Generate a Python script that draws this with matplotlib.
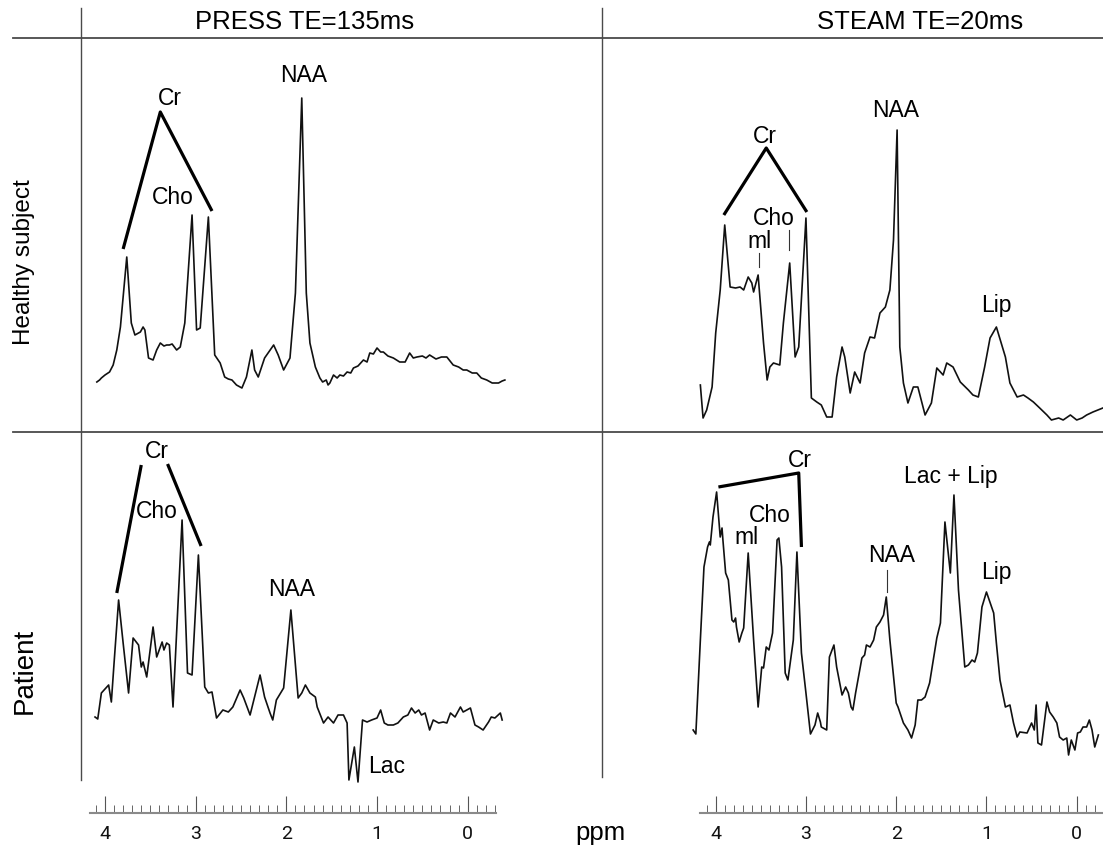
import numpy as np
import matplotlib
matplotlib.use('Agg')
import matplotlib.pyplot as plt
from matplotlib.ticker import FixedLocator

plt.rcParams['font.family'] = ['Liberation Sans', 'DejaVu Sans']

W, H = 1103, 847

# ---- spectra (ppm, signal in arbitrary units) ----
TL_PPM = [
    4.09, 4.06, 4.04, 4.00, 3.95, 3.91, 3.87, 3.83, 3.76, 3.71,
    3.67, 3.63, 3.61, 3.58, 3.56, 3.52, 3.47, 3.43, 3.39, 3.35,
    3.32, 3.29, 3.26, 3.21, 3.17, 3.12, 3.04, 2.99, 2.95, 2.86,
    2.79, 2.73, 2.68, 2.64, 2.60, 2.55, 2.49, 2.44, 2.38, 2.35,
    2.31, 2.24, 2.14, 2.09, 2.03, 1.96, 1.90, 1.83, 1.78, 1.74,
    1.68, 1.63, 1.60, 1.56, 1.54, 1.52, 1.48, 1.44, 1.41, 1.37,
    1.33, 1.29, 1.26, 1.21, 1.15, 1.11, 1.08, 1.04, 1.00, 0.96,
    0.93, 0.88, 0.82, 0.75, 0.69, 0.64, 0.60, 0.56, 0.50, 0.46,
    0.42, 0.35, 0.29, 0.23, 0.16, 0.10, 0.05, 0.01, -0.05, -0.10,
    -0.15, -0.21, -0.27, -0.34, -0.38, -0.41]
TL_INT = [
    48, 50, 52, 55, 58, 65, 80, 103, 173, 107,
    95, 97, 98, 103, 100, 72, 70, 80, 87, 84,
    85, 85, 86, 80, 83, 107, 215, 100, 102, 213,
    75, 67, 53, 51, 50, 45, 42, 53, 80, 60,
    53, 72, 85, 75, 60, 72, 137, 332, 137, 87,
    63, 52, 48, 50, 45, 47, 55, 52, 55, 54,
    58, 57, 62, 64, 70, 68, 77, 76, 82, 78,
    78, 74, 72, 68, 68, 77, 72, 73, 74, 72,
    75, 71, 73, 73, 65, 63, 60, 60, 57, 57,
    52, 50, 47, 47, 49, 50]

TR_PPM = [
    4.17, 4.14, 4.10, 4.04, 4.00, 3.95, 3.90, 3.84, 3.78, 3.73,
    3.69, 3.64, 3.60, 3.58, 3.53, 3.47, 3.43, 3.40, 3.36, 3.29,
    3.25, 3.18, 3.12, 3.08, 3.00, 2.94, 2.88, 2.83, 2.77, 2.71,
    2.66, 2.60, 2.57, 2.51, 2.46, 2.40, 2.35, 2.29, 2.24, 2.18,
    2.12, 2.07, 2.03, 1.99, 1.96, 1.92, 1.87, 1.81, 1.76, 1.68,
    1.61, 1.55, 1.48, 1.44, 1.37, 1.29, 1.20, 1.15, 1.09, 1.02,
    0.96, 0.89, 0.79, 0.74, 0.66, 0.59, 0.54, 0.48, 0.41, 0.33,
    0.28, 0.20, 0.15, 0.07, 0.00, -0.06, -0.11, -0.18, -0.29]
TR_INT = [
    45, 12, 20, 43, 97, 140, 205, 143, 142, 143,
    140, 153, 147, 138, 155, 87, 50, 63, 67, 65,
    107, 167, 73, 83, 212, 32, 28, 25, 13, 13,
    53, 83, 73, 37, 58, 47, 77, 93, 92, 117,
    123, 140, 190, 300, 83, 47, 27, 43, 43, 15,
    27, 62, 55, 67, 63, 48, 40, 35, 33, 63,
    92, 103, 73, 47, 33, 35, 32, 28, 22, 15,
    10, 12, 10, 15, 10, 12, 15, 18, 22]

BL_PPM = [
    4.11, 4.08, 4.04, 3.98, 3.96, 3.93, 3.90, 3.85, 3.80, 3.74,
    3.69, 3.63, 3.60, 3.58, 3.54, 3.47, 3.43, 3.37, 3.35, 3.32,
    3.29, 3.25, 3.15, 3.09, 3.04, 2.97, 2.90, 2.86, 2.82, 2.77,
    2.70, 2.64, 2.59, 2.51, 2.47, 2.40, 2.29, 2.24, 2.18, 2.15,
    2.11, 2.03, 1.95, 1.87, 1.83, 1.79, 1.74, 1.68, 1.66, 1.59,
    1.54, 1.48, 1.43, 1.37, 1.33, 1.31, 1.25, 1.21, 1.16, 1.11,
    1.06, 1.00, 0.96, 0.92, 0.88, 0.82, 0.77, 0.71, 0.66, 0.62,
    0.58, 0.54, 0.51, 0.47, 0.42, 0.38, 0.32, 0.27, 0.23, 0.19,
    0.14, 0.08, 0.05, 0.01, -0.03, -0.08, -0.12, -0.17, -0.23, -0.26,
    -0.30, -0.36, -0.38]
BL_INT = [
    73, 71, 97, 103, 105, 88, 127, 190, 147, 97,
    152, 145, 123, 128, 113, 163, 133, 148, 140, 147,
    145, 83, 270, 117, 115, 235, 103, 97, 98, 72,
    80, 78, 83, 100, 92, 75, 115, 93, 77, 70,
    90, 102, 180, 92, 97, 105, 97, 93, 83, 67,
    73, 67, 75, 75, 67, 10, 43, 8, 70, 68,
    70, 72, 80, 67, 65, 65, 67, 73, 75, 82,
    77, 80, 75, 77, 60, 70, 67, 68, 67, 77,
    73, 83, 78, 80, 82, 65, 63, 60, 68, 73,
    72, 77, 70]

BR_PPM = [
    4.25, 4.22, 4.17, 4.13, 4.09, 4.07, 4.06, 4.03, 3.99, 3.95,
    3.93, 3.92, 3.89, 3.86, 3.82, 3.80, 3.78, 3.77, 3.74, 3.71,
    3.69, 3.64, 3.58, 3.53, 3.49, 3.47, 3.44, 3.41, 3.37, 3.32,
    3.30, 3.27, 3.23, 3.20, 3.14, 3.10, 3.05, 3.00, 2.95, 2.90,
    2.87, 2.84, 2.83, 2.77, 2.74, 2.69, 2.66, 2.60, 2.56, 2.53,
    2.50, 2.48, 2.45, 2.38, 2.35, 2.33, 2.29, 2.25, 2.22, 2.18,
    2.14, 2.11, 2.07, 2.00, 1.98, 1.92, 1.87, 1.83, 1.79, 1.76,
    1.72, 1.68, 1.63, 1.55, 1.51, 1.46, 1.40, 1.36, 1.31, 1.24,
    1.20, 1.16, 1.13, 1.10, 1.05, 1.00, 0.92, 0.89, 0.85, 0.79,
    0.74, 0.70, 0.66, 0.63, 0.55, 0.50, 0.47, 0.45, 0.43, 0.39,
    0.33, 0.30, 0.26, 0.22, 0.19, 0.15, 0.11, 0.09, 0.06, 0.02,
    -0.01, -0.04, -0.07, -0.11, -0.14, -0.17, -0.20, -0.24]
BR_INT = [
    60, 56, 150, 223, 243, 248, 245, 273, 298, 253,
    262, 250, 217, 210, 170, 168, 172, 163, 148, 157,
    162, 237, 150, 83, 123, 122, 143, 140, 157, 250,
    252, 223, 117, 110, 150, 238, 137, 97, 56, 65,
    77, 68, 63, 60, 133, 145, 123, 95, 103, 97,
    83, 80, 97, 132, 135, 145, 143, 150, 163, 168,
    175, 193, 150, 87, 83, 67, 60, 52, 65, 90,
    90, 93, 107, 152, 167, 268, 217, 295, 200, 123,
    125, 130, 128, 137, 183, 198, 177, 147, 110, 83,
    85, 67, 53, 58, 57, 67, 60, 85, 47, 45,
    88, 78, 73, 67, 53, 50, 52, 35, 50, 40,
    57, 58, 63, 63, 70, 60, 43, 55]

COL_TITLES = ['PRESS TE=135ms', 'STEAM TE=20ms']
ROW_TITLES = ['Healthy subject', 'Patient']
PPM_TICKS = [4, 3, 2, 1, 0]

# ppm -> pixel calibration of each column (pixel of 4 ppm, pixels per ppm)
CAL = {'left': (105.0, 90.675), 'right': (715.7, 90.25)}


def px2ppm(col, x):
    x4, k = CAL[col]
    return 4.0 - (x - x4) / k


def add_px_axes(fig, x0, x1, y0, y1):
    return fig.add_axes([x0 / W, 1 - y1 / H, (x1 - x0) / W, (y1 - y0) / H])


fig = plt.figure(figsize=(W / 100, H / 100), dpi=100)

# frame lines of the table
frame = fig.add_axes([0, 0, 1, 1])
frame.set_xlim(0, W)
frame.set_ylim(H, 0)
frame.axis('off')
gcol = '#4a4a4a'
frame.plot([13, W], [38, 38], color=gcol, lw=1.3)
frame.plot([13, W], [431.7, 431.7], color=gcol, lw=1.3)
frame.plot([81, 81], [8, 780], color=gcol, lw=1.0)
frame.plot([601.7, 601.7], [8, 777], color=gcol, lw=1.0)
frame.text(305, 22, COL_TITLES[0], ha='center', va='center', fontsize=18.5, color='#000')
frame.text(920, 22, COL_TITLES[1], ha='center', va='center', fontsize=18.5, color='#000')
frame.text(24, 262, ROW_TITLES[0], ha='center', va='center', rotation=90, fontsize=17.5, color='#000')
frame.text(25, 671, ROW_TITLES[1], ha='center', va='center', rotation=90, fontsize=20, color='#000')
frame.text(600, 833, 'ppm', ha='center', va='center', fontsize=18.5, color='#000')

panels = [
    ('left', 40, 430, TL_PPM, TL_INT),
    ('right', 40, 430, TR_PPM, TR_INT),
    ('left', 432, 790, BL_PPM, BL_INT),
    ('right', 432, 790, BR_PPM, BR_INT),
]
axes = []
for col, y0, y1, xs, ys in panels:
    x0, x1 = (81, 600) if col == 'left' else (603, 1103)
    ax = add_px_axes(fig, x0, x1, y0, y1)
    ax.set_xlim(px2ppm(col, x0), px2ppm(col, x1))
    ax.set_ylim(0, y1 - y0)
    ax.axis('off')
    ax.plot(xs, ys, color='#111', lw=1.2, clip_on=False)
    axes.append(ax)

tk = dict(ha='center', va='center', fontsize=16.5, color='#000')
bk = dict(color='black', lw=2.3, solid_capstyle='butt', clip_on=False)
thin = dict(color='#333', lw=0.8, clip_on=False)

ax = axes[0]
ax.plot([3.80, 3.39, 2.82], [181, 318, 219], **bk)
ax.text(3.28, 332, 'Cr', **tk)
ax.text(3.25, 233, 'Cho', **tk)
ax.text(1.81, 355, 'NAA', **tk)

ax = axes[1]
ax.plot([3.91, 3.44, 2.99], [215, 282, 218], **bk)
ax.text(3.45, 294, 'Cr', **tk)
ax.text(3.36, 212, 'Cho', **tk)
ax.text(3.51, 189, 'ml', **tk)
ax.plot([3.52, 3.52], [177, 163], **thin)
ax.plot([3.19, 3.19], [200, 180], **thin)
ax.text(2.01, 320, 'NAA', **tk)
ax.text(0.89, 125, 'Lip', **tk)

ax = axes[2]
ax.plot([3.87, 3.60], [197, 325], **bk)
ax.plot([3.31, 2.94], [326, 244], **bk)
ax.text(3.43, 339, 'Cr', **tk)
ax.text(3.43, 279, 'Cho', **tk)
ax.text(1.94, 200, 'NAA', **tk)
ax.text(0.89, 24, 'Lac', **tk)

ax = axes[3]
ax.plot([3.97, 3.08, 3.05], [303, 317, 243], **bk)
ax.text(3.07, 330, 'Cr', **tk)
ax.text(3.40, 275, 'Cho', **tk)
ax.text(3.66, 252, 'ml', **tk)
ax.text(2.05, 235, 'NAA', **tk)
ax.plot([2.10, 2.10], [220, 198], **thin)
ax.text(1.39, 314, 'Lac + Lip', **tk)
ax.text(0.89, 217, 'Lip', **tk)

# ppm rulers
for col, x0, x1, lo in (('left', 90, 496, -0.3), ('right', 700, 1103, -0.2)):
    rax = add_px_axes(fig, x0, x1, 792.7, 812.7)
    rax.set_xlim(px2ppm(col, x0), px2ppm(col, x1))
    rax.set_ylim(0, 1)
    rax.patch.set_visible(False)
    for s in ('top', 'left', 'right'):
        rax.spines[s].set_visible(False)
    rax.spines['bottom'].set_color('#8a8a8a')
    rax.spines['bottom'].set_linewidth(1.5)
    rax.set_yticks([])
    rax.xaxis.set_major_locator(FixedLocator(PPM_TICKS))
    rax.xaxis.set_minor_locator(FixedLocator(np.round(np.arange(4.1, lo - 0.05, -0.1), 2)))
    rax.set_xticklabels([str(t) for t in PPM_TICKS], family=['Roboto', 'DejaVu Sans'])
    rax.tick_params(axis='x', which='major', direction='in', length=12, width=0.8,
                    color='#555', labelsize=14, labelcolor='#111', pad=9)
    rax.tick_params(axis='x', which='minor', direction='in', length=6, width=0.7, color='#666')

fig.savefig('out.png', dpi=100)
